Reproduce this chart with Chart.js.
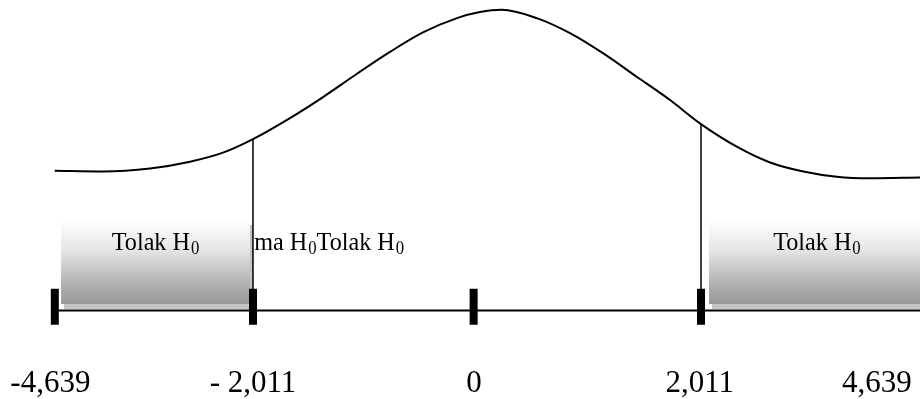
<!DOCTYPE html>
<html>
<head>
<meta charset="utf-8">
<script src="https://cdn.jsdelivr.net/npm/chart.js@4.4.1/dist/chart.umd.min.js"></script>
<style>
  html,body{margin:0;padding:0;background:#fff;}
  #wrap{width:920px;height:399px;position:relative;}
</style>
</head>
<body>
<div id="wrap"><canvas id="c"></canvas></div>
<script>
// schematic t-test diagram (not drawn to scale)
const tickLabels=['-4,639','- 2,011','0','2,011','4,639'];
const tickMarks=[-3.79,-2.011,-0.03,2.011];
const labelAt=[-3.83,-2.011,-0.027,2.0,3.59];
const critVals=[-2.011,2.011];
const critHeights=[0.228,0.248];

const curveX=[-3.791,-3.357,-2.935,-2.576,-2.280,-2.011,-1.679,-1.382,-1.077,-0.781,-0.485,-0.179,0.027,0.222,0.536,0.835,1.134,1.434,1.733,2.011,2.332,2.631,2.930,3.229,3.528,3.977];
const curveY=[0.186,0.185,0.189,0.198,0.210,0.228,0.256,0.284,0.315,0.344,0.370,0.389,0.397,0.400,0.389,0.369,0.342,0.311,0.280,0.248,0.218,0.197,0.185,0.178,0.176,0.177];

const rejectRegions=[[-3.734,-2.038],[2.083,4.2]];
const boxTop=0.1204, boxBottom=0.0087;
const boxLabelX=[-2.886,3.052];
const midLabelX=-2.0;
const labelY=0.0805;

const xMin=-4.282, xMax=3.977, yMin=-0.1177, yMax=0.4131;

function gradFill(ctx){
  const ch=ctx.chart;
  if(!ch.chartArea) return '#ccc';
  const y0=ch.scales.y.getPixelForValue(boxTop), y1=ch.scales.y.getPixelForValue(boxBottom);
  const g=ch.ctx.createLinearGradient(0,y0,0,y1);
  g.addColorStop(0,'#ffffff');
  g.addColorStop(0.35,'#e6e6e6');
  g.addColorStop(0.75,'#b2b2b2');
  g.addColorStop(1,'#999999');
  return g;
}

const datasets=[];
// curve
datasets.push({data:curveX.map((x,i)=>({x,y:curveY[i]})), borderColor:'#000', borderWidth:2, pointRadius:0, cubicInterpolationMode:'monotone', fill:false, order:1});
// critical value lines
critVals.forEach((v,i)=>datasets.push({data:[{x:v,y:critHeights[i]},{x:v,y:0}], borderColor:'#000', borderWidth:1.5, pointRadius:0, fill:false, order:2}));
// base line
datasets.push({data:[{x:tickMarks[0],y:0},{x:xMax+0.2,y:0}], borderColor:'#000', borderWidth:2, pointRadius:0, fill:false, order:2});
// thick ticks
datasets.push({type:'scatter', data:tickMarks.map(x=>({x,y:0.005})), pointStyle:'line', rotation:90, radius:18, borderWidth:8, borderColor:'#000', backgroundColor:'#000', order:0});
// rejection boxes + shadow
rejectRegions.forEach(r=>{
  datasets.push({data:[{x:r[0],y:boxTop},{x:r[1],y:boxTop}], borderWidth:0, pointRadius:0, fill:{value:boxBottom}, backgroundColor:gradFill, order:5});
  datasets.push({data:[{x:r[0]+0.027,y:boxTop-0.0067},{x:r[1]+0.027,y:boxTop-0.0067}], borderWidth:0, pointRadius:0, fill:{value:boxBottom-0.0067}, backgroundColor:'#c4c4c4', order:6});
});

const FONT='"Liberation Serif", "Times New Roman", serif';
function drawParts(ctx,parts,x,y,align,sx){
  let w=0;
  parts.forEach(p=>{ctx.font=p.size+'px '+FONT; p.w=ctx.measureText(p.t).width+(p.dx||0); w+=p.w;});
  ctx.save();
  ctx.translate(x,y);
  ctx.scale(sx,1);
  let cx= align==='center' ? -w/2 : 0;
  parts.forEach(p=>{
    ctx.font=p.size+'px '+FONT;
    ctx.fillText(p.t,cx+(p.dx||0),p.dy||0);
    cx+=p.w;
  });
  ctx.restore();
}

const sub={t:'0',size:18,dy:4,dx:1};
const textPlugin={
  id:'texts',
  afterDatasetsDraw(chart){
    const {ctx,scales:{x,y}}=chart;
    ctx.save();
    ctx.fillStyle='#000';
    ctx.textBaseline='alphabetic';
    ctx.textAlign='left';
    const ly=y.getPixelForValue(labelY);
    boxLabelX.forEach(v=>{
      drawParts(ctx,[{t:'Tolak H',size:26},sub],x.getPixelForValue(v),ly,'center',0.93);
    });
    drawParts(ctx,[{t:'ma H',size:26},sub,{t:'Tolak H',size:26},sub],x.getPixelForValue(midLabelX),ly,'left',0.93);
    tickLabels.forEach((t,i)=>{
      drawParts(ctx,[{t:t,size:31}],x.getPixelForValue(labelAt[i]),392,'center',1);
    });
    ctx.restore();
  }
};

new Chart(document.getElementById('c'),{
  type:'line',
  data:{datasets},
  options:{
    responsive:true, maintainAspectRatio:false, animation:false,
    layout:{padding:0, autoPadding:false},
    plugins:{legend:{display:false}, tooltip:{enabled:false}},
    scales:{
      x:{type:'linear', min:xMin, max:xMax, display:false},
      y:{type:'linear', min:yMin, max:yMax, display:false}
    }
  },
  plugins:[textPlugin]
});
</script>
</body>
</html>
